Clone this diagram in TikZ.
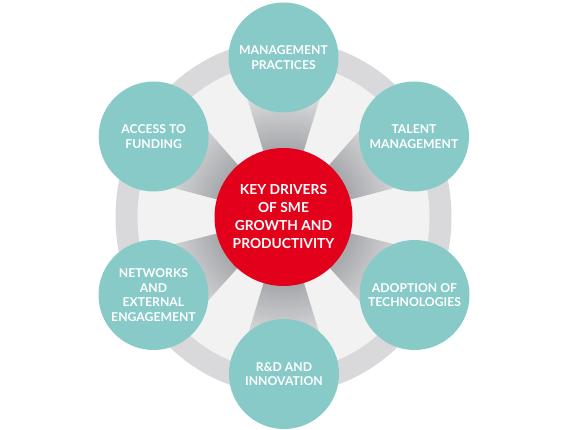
\documentclass[tikz,border=0pt]{standalone}
\usepackage{fontspec}
\setmainfont{Lato}
\usetikzlibrary{calc}
\definecolor{tealc}{HTML}{87CAC7}
\definecolor{redc}{HTML}{E2001A}
\definecolor{ringc}{HTML}{D9D9DB}
\definecolor{innerc}{HTML}{F2F2F3}
\definecolor{spkD}{HTML}{A9AAAD}
\definecolor{spkL}{HTML}{D8D9DB}
\pgfdeclareradialshading{spokeshade}{\pgfpoint{0bp}{0bp}}{color(0bp)=(spkD); color(11bp)=(spkD); color(19bp)=(spkL); color(25bp)=(spkL); color(50bp)=(spkL)}
\pgfdeclarelayer{bg}
\pgfsetlayers{bg,main}
\begin{document}
\begin{tikzpicture}[x=1pt,y=-1pt,
  driver/.style={circle, fill=tealc, minimum size=110pt, inner sep=0pt, align=center, text=white,
    font=\fontsize{12.2}{14.8}\selectfont\bfseries},
  hub/.style={circle, fill=redc, minimum size=138pt, inner sep=0pt, align=center, text=white,
    font=\fontsize{13.8}{18}\selectfont\bfseries}]
\useasboundingbox (0,0) rectangle (570,430);
\node[hub] (key) at (283.5,217) {KEY DRIVERS\\OF SME\\GROWTH AND\\PRODUCTIVITY};
\node[driver] (mp) at (283.5,57.5) {MANAGEMENT\\PRACTICES};
\node[driver] (tm) at (414,136.5) {TALENT\\MANAGEMENT};
\node[driver] (at) at (414.5,295) {ADOPTION OF\\TECHNOLOGIES};
\node[driver] (rd) at (284,374) {R\&D AND\\INNOVATION};
\node[driver] (ne) at (153.5,295) {NETWORKS\\AND\\EXTERNAL\\ENGAGEMENT};
\node[driver] (af) at (153.7,136.5) {ACCESS TO\\FUNDING};
\begin{pgfonlayer}{bg}
\fill[white] (0,0) rectangle (570,430);
\fill[ringc] (key.center) ellipse [x radius=168pt, y radius=177pt];
\fill[innerc] (key.center) ellipse [x radius=146pt, y radius=154pt];
\begin{scope}
\clip \foreach \p in {mp,tm,at,rd,ne,af}{
  (key.center) -- ($(key.center)!125pt!17:(\p.center)$) -- (\p.center) -- ($(key.center)!125pt!-17:(\p.center)$) -- cycle};
\shade[shading=spokeshade] (key.center) circle (160pt);
\end{scope}
\end{pgfonlayer}
\end{tikzpicture}
\end{document}
